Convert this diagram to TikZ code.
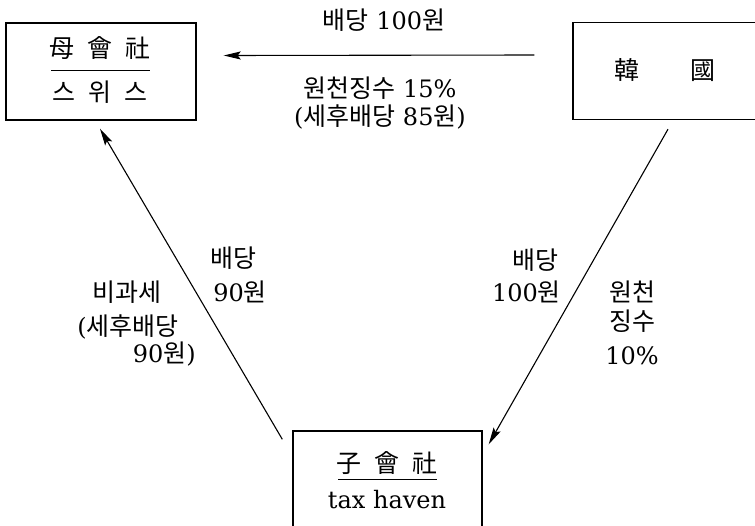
\documentclass[tikz,border=0pt]{standalone}
\usepackage{fontspec}
\setmainfont{DejaVu Serif}
\newfontfamily\kr{Noto Sans CJK KR}[Scale=1.04]
\usetikzlibrary{arrows.meta}
\newcommand\K[1]{{\kr #1}}
\begin{document}
\begin{tikzpicture}[x=1pt,y=-1pt,
  box/.style={draw, line width=1.4pt, minimum width=190pt, minimum height=97pt, inner sep=0pt},
  lbl/.style={inner sep=0pt, font=\fontsize{24}{28}\selectfont},
  uline/.style={line width=1pt},
  arr/.style={line width=1.1pt, -{Stealth[length=17pt,width=8pt,inset=3pt]}}]
\useasboundingbox (0,0) rectangle (755,525);
\clip (0,0) rectangle (755,525);
\fill[white] (0,0) rectangle (755,525);
% boxes
\node[box] (parent) at (101,71.5) {};
\node[box, minimum width=186pt] (korea) at (666,71) {};
\node[box, minimum width=189pt] (child) at (387.5,479.5) {};
% box contents
\node[lbl] (p1) at (100,48) {\K{母\hspace{13pt}會\hspace{13pt}社}};
\draw[uline] (51,70) -- (150,70);
\node[lbl] (p2) at (100,92) {\K{스\hspace{13pt}위\hspace{13pt}스}};
\node[lbl] (k1) at (665,70) {\K{韓\hspace{51pt}國}};
\node[lbl] (c1) at (387,463) {\K{子\hspace{13pt}會\hspace{13pt}社}};
\draw[uline] (338,479) -- (437,479);
\node[lbl] (c2) at (387,500) {tax haven};
% connectors
\draw[arr] ([xshift=-38pt,yshift=16pt]korea.west) -- ([xshift=27pt,yshift=16pt]parent.east);
\draw[arr] ([xshift=-10pt,yshift=-9pt]child.north west) -- ([xshift=-1pt,yshift=-8pt]parent.south);
\draw[arr] ([xshift=2pt,yshift=-9pt]korea.south) -- ([xshift=6pt,yshift=-14pt]child.north east);
% top labels
\node[lbl] (t1) at (384,20) {\K{배당} 100\K{원}};
\node[lbl] (t2) at (380,88) {\K{원천징수} 15\%};
\node[lbl] (t3) at (380,117) {(\K{세후배당} 85\K{원})};
% left labels
\node[lbl] (l1) at (233,258) {\K{배당}};
\node[lbl] (l2) at (240,292) {90\K{원}};
\node[lbl] (l3) at (127,292) {\K{비과세}};
\node[lbl] (l4) at (128,327) {(\K{세후배당}};
\node[lbl, anchor=east] (l5) at (196,354) {90\K{원})};
% right labels
\node[lbl, anchor=east] (r1) at (559,260) {\K{배당}};
\node[lbl, anchor=east] (r2) at (561,292) {100\K{원}};
\node[lbl] (r3) at (632,292) {\K{원천}};
\node[lbl] (r4) at (632,321) {\K{징수}};
\node[lbl] (r5) at (632,356) {10\%};
\end{tikzpicture}
\end{document}
